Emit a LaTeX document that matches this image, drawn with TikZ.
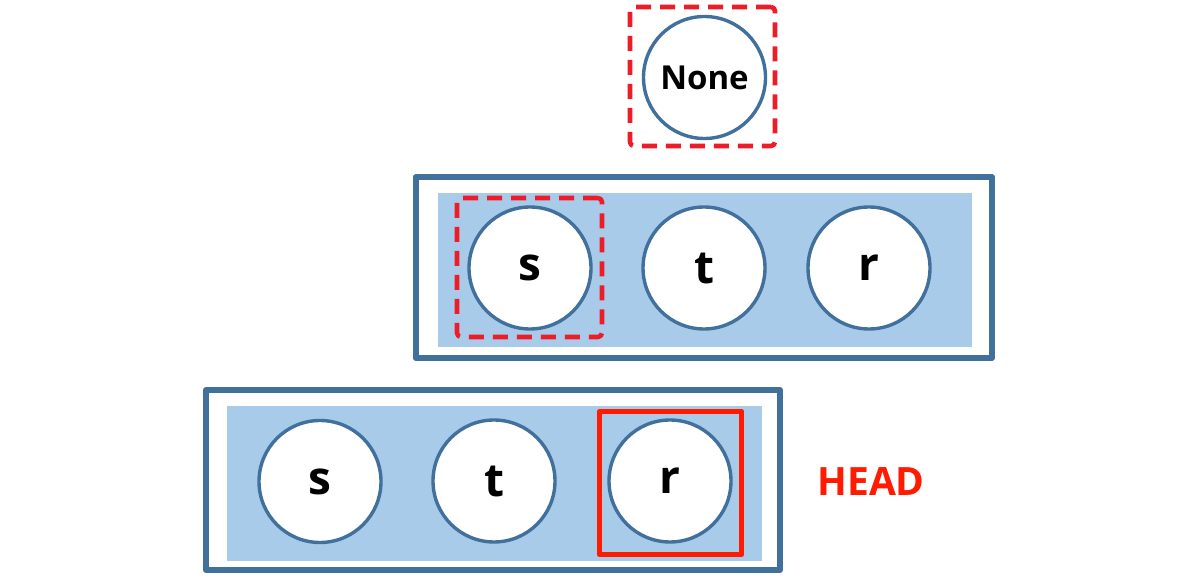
\documentclass[tikz,border=0pt]{standalone}
\usepackage{fontspec}
\newfontfamily\lblfont{Open Sans}
\usetikzlibrary{positioning}

\definecolor{boxblue}{HTML}{41709C}
\definecolor{fillblue}{HTML}{A9CBEA}
\definecolor{markred}{HTML}{FF1A00}
\definecolor{dashred}{HTML}{EC1C28}

\begin{document}
\begin{tikzpicture}[
    x=0.5pt,
    y=-0.5pt,
    line join=round,
    item/.style={
        circle,
        draw=boxblue,
        line width=1.7pt,
        fill=white,
        minimum size=61pt,
        inner sep=0pt,
        font=\lblfont\bfseries\fontsize{23}{24}\selectfont
    },
    frame/.style={
        rectangle,
        draw=boxblue,
        line width=3pt,
        inner sep=0pt
    },
    band/.style={rectangle,fill=fillblue,inner sep=0pt},
    picked/.style={
        rectangle,
        draw=dashred,
        line width=2.3pt,
        dash pattern=on 7.5pt off 4.5pt,
        rounded corners=2pt,
        inner sep=0pt,
        minimum width=72.5pt,
        minimum height=69.5pt
    },
    headmark/.style={
        rectangle,
        draw=markred,
        line width=2.9pt,
        inner sep=0pt,
        minimum width=71pt,
        minimum height=71.5pt
    }
]
\useasboundingbox (0,0) rectangle (1200,587);

% top: the empty reference
\node[picked] (nonebox) at (702.5,76.5) {};
\node[item,font=\lblfont\bfseries\fontsize{16.5}{18}\selectfont] (none) at (704.5,77.5) {None};

% middle row
\node[frame,minimum width=288.25pt,minimum height=90.5pt] (midframe) at (703.75,267.5) {};
\node[band,minimum width=267pt,minimum height=77pt] (midband) at (705,270) {};
\node[item] (ms) at (530,268) {s};
\node[item] (mt) at (704,268) {t};
\node[item] (mr) at (869,268) {r};
\node[picked] (msbox) at (529.5,267.5) {};

% bottom row
\node[frame,minimum width=287pt,minimum height=90pt] (lowframe) at (493,480) {};
\node[band,minimum width=267.5pt,minimum height=77.5pt] (lowband) at (494.5,483.5) {};
\node[item] (ls) at (320,481.5) {s};
\node[item] (lt) at (494,481) {t};
\node[item] (lr) at (670,481) {r};
\node[headmark] (lrbox) at (670.5,483) {};

\node[font=\lblfont\bfseries\fontsize{19.5}{22}\selectfont,text=markred,anchor=west,inner sep=0pt] (head) at (817,482) {HEAD};

\end{tikzpicture}
\end{document}
